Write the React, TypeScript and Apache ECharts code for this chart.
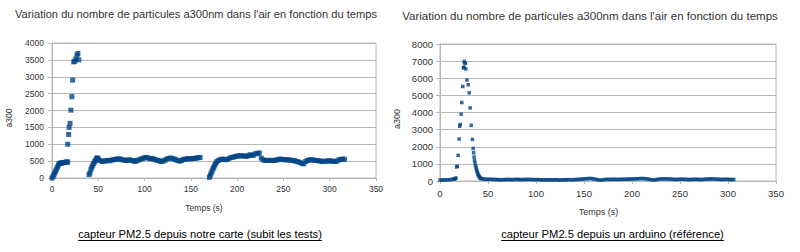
import React, { useEffect, useRef } from "react";
import * as echarts from "echarts";

const TITLE_TEXT = "Variation du nombre de particules a300nm dans l'air en fonction du temps";
const Y_NAME = "a300";
const X_NAME = "Temps (s)";
const LEFT_CAPTION = "capteur PM2.5 depuis notre carte (subit les tests)";
const RIGHT_CAPTION = "capteur PM2.5 depuis un arduino (référence)";

const LEFT_Y_TICKS = [0, 500, 1000, 1500, 2000, 2500, 3000, 3500, 4000];
const RIGHT_Y_TICKS = [0, 1000, 2000, 3000, 4000, 5000, 6000, 7000, 8000];
const X_TICKS = [0, 50, 100, 150, 200, 250, 300, 350];

// Left chart (notre carte): first burst
const leftSeg1Time = [0, 1, 2, 3, 4, 5, 6, 7, 8, 9, 10, 11, 12, 13, 14, 15, 16, 17, 17, 18, 18.5, 19.5, 20.4, 21.5, 22.3, 23.5, 24.5, 25.7, 27, 28, 29];
const leftSeg1Value = [0, 40, 90, 150, 210, 270, 330, 390, 430, 440, 440, 450, 450, 460, 460, 470, 480, 470, 1000, 1290, 1500, 1620, 2010, 2410, 2900, 3440, 3460, 3520, 3640, 3690, 3500];
// Left chart: second segment
const leftSeg2Time = [40, 41, 42, 43, 44, 45, 46, 47, 48, 49, 50, 52, 54, 56, 58, 60, 62, 64, 66, 68, 70, 72, 74, 76, 78, 80, 82, 84, 86, 88, 90, 92, 94, 96, 98, 100, 102, 104, 106, 108, 110, 112, 114, 116, 118, 120, 122, 124, 126, 128, 130, 132, 134, 136, 138, 140, 142, 144, 146, 148, 150, 152, 154, 156, 158, 160];
const leftSeg2Value = [100, 150, 250, 320, 380, 430, 480, 520, 580, 600, 560, 520, 490, 500, 510, 520, 510, 530, 540, 550, 560, 570, 560, 540, 530, 520, 530, 540, 520, 510, 490, 520, 540, 560, 580, 600, 610, 590, 570, 580, 560, 540, 520, 510, 490, 500, 530, 560, 580, 590, 580, 560, 540, 520, 500, 520, 550, 560, 570, 570, 570, 580, 580, 590, 600, 610];
// Left chart: third segment
const leftSeg3Time = [170, 171, 172, 173, 174, 175, 176, 177, 178, 180, 182, 184, 186, 188, 190, 192, 194, 196, 198, 200, 202, 204, 206, 208, 210, 212, 214, 216, 218, 220, 222, 224, 226, 228, 230, 232, 234, 236, 238, 240, 242, 244, 246, 248, 250, 252, 254, 256, 258, 260, 262, 264, 266, 268, 270, 272, 274, 276, 278, 280, 282, 284, 286, 288, 290, 292, 294, 296, 298, 300, 302, 304, 306, 308, 310, 312, 314, 316];
const leftSeg3Value = [20, 80, 150, 210, 280, 330, 390, 440, 490, 520, 550, 560, 550, 540, 560, 590, 610, 620, 640, 650, 655, 660, 655, 650, 640, 660, 690, 670, 680, 720, 730, 740, 590, 540, 520, 520, 525, 520, 520, 520, 530, 545, 560, 555, 545, 540, 540, 535, 530, 520, 510, 495, 480, 460, 430, 420, 490, 520, 535, 540, 535, 520, 520, 510, 500, 490, 495, 500, 505, 510, 500, 495, 490, 500, 540, 550, 560, 555];

// Right chart (arduino reference)
const rightPreTime = [0, 2, 4, 6, 8, 10, 12, 14, 15, 16, 16.5];
const rightPreValue = [60, 55, 60, 65, 70, 80, 90, 110, 120, 150, 170];
const rightSpikeTime = [17.3, 18.0, 18.9, 19.9, 20.6, 21.0, 22.0, 22.7, 23.7, 24.4, 25.0, 25.2, 25.8, 26.4, 27.0, 28.0, 29.4, 30.4, 31.4, 32.5, 33.8, 34.5, 35.0, 35.5, 36.0, 36.5, 37.0, 37.5, 38.0, 38.5, 39.0, 39.5, 40.0, 40.5, 41.0, 41.5, 42.0, 43.0];
const rightSpikeValue = [820, 860, 1500, 2450, 3200, 3300, 3900, 4580, 5520, 6600, 6650, 6980, 6900, 6880, 6540, 5900, 5620, 5150, 4270, 3250, 2430, 1900, 1650, 1400, 1200, 1050, 900, 780, 680, 580, 480, 410, 340, 290, 240, 200, 170, 140];
const rightTailTime = [44, 46, 48, 50, 52, 54, 56, 58, 60, 62, 64, 66, 68, 70, 72, 74, 76, 78, 80, 82, 84, 86, 88, 90, 92, 94, 96, 98, 100, 102, 104, 106, 108, 110, 112, 114, 116, 118, 120, 122, 124, 126, 128, 130, 132, 134, 136, 138, 140, 142, 144, 146, 148, 150, 152, 154, 156, 158, 160, 162, 164, 166, 168, 170, 172, 174, 176, 178, 180, 182, 184, 186, 188, 190, 192, 194, 196, 198, 200, 202, 204, 206, 208, 210, 212, 214, 216, 218, 220, 222, 224, 226, 228, 230, 232, 234, 236, 238, 240, 242, 244, 246, 248, 250, 252, 254, 256, 258, 260, 262, 264, 266, 268, 270, 272, 274, 276, 278, 280, 282, 284, 286, 288, 290, 292, 294, 296, 298, 300, 302, 304, 306];
const rightTailValue = [130, 110, 100, 100, 95, 100, 90, 85, 80, 75, 70, 80, 85, 90, 85, 80, 85, 90, 95, 90, 85, 80, 85, 90, 95, 90, 85, 80, 85, 80, 75, 70, 65, 70, 75, 70, 65, 70, 75, 70, 65, 60, 65, 70, 75, 80, 75, 70, 80, 90, 95, 100, 110, 120, 130, 140, 150, 140, 120, 100, 80, 60, 50, 70, 90, 100, 95, 90, 95, 100, 95, 90, 95, 100, 105, 100, 110, 115, 120, 120, 125, 130, 140, 145, 140, 130, 120, 100, 80, 60, 70, 90, 110, 120, 125, 130, 125, 120, 110, 100, 95, 90, 95, 100, 105, 100, 95, 90, 85, 90, 95, 100, 95, 90, 85, 90, 100, 110, 115, 120, 125, 115, 105, 100, 95, 90, 95, 100, 95, 90, 85, 90];

const zip = (t: number[], v: number[]) => t.map((x, i) => [x, v[i]]);

const FONT = "'Liberation Sans', Arial, sans-serif";
const GRID_COLOR = "#b8b8b8";
const TEXT_COLOR = "#333333";
const MARK_COLOR = "#004586";

function fitFont(text: string, family: string, width: number): number {
  const c = document.createElement("canvas").getContext("2d");
  if (!c) return 12;
  c.font = `100px ${family}`;
  const w = c.measureText(text).width;
  return w > 0 ? (100 * width) / w : 12;
}

function textWidth(text: string, family: string, size: number): number {
  const c = document.createElement("canvas").getContext("2d");
  if (!c) return text.length * size * 0.5;
  c.font = `${size}px ${family}`;
  return c.measureText(text).width;
}

export default function App() {
  const ref = useRef<HTMLDivElement>(null);
  useEffect(() => {
    document.body.style.margin = "0";
    const chart = echarts.init(ref.current!, null, { renderer: "svg" });

    const leftTitleSize = fitFont(TITLE_TEXT, FONT, 362);
    const rightTitleSize = fitFont(TITLE_TEXT, FONT, 376);
    const capFont = "'Liberation Sans', Arial, sans-serif";
    const leftCapSize = fitFont(LEFT_CAPTION, capFont, 246);
    const rightCapSize = fitFont(RIGHT_CAPTION, capFont, 221);
    const capSize = (leftCapSize + rightCapSize) / 2;
    const leftCapW = textWidth(LEFT_CAPTION, capFont, capSize);
    const rightCapW = textWidth(RIGHT_CAPTION, capFont, capSize);

    const makeX = (gridIndex: number, fontSize: number, margin: number) => ({
      gridIndex,
      type: "value",
      min: 0,
      max: 350,
      interval: 50,
      axisLine: { show: true, lineStyle: { color: GRID_COLOR } },
      axisTick: { show: true, length: 3, inside: false, lineStyle: { color: GRID_COLOR } },
      axisLabel: {
        fontSize,
        fontFamily: FONT,
        color: TEXT_COLOR,
        margin,
        formatter: (v: number) => (X_TICKS.includes(v) ? String(v) : ""),
      },
      splitLine: { show: false },
    });
    const makeY = (gridIndex: number, max: number, interval: number, ticks: number[], fontSize: number, margin: number) => ({
      gridIndex,
      type: "value",
      min: 0,
      max,
      interval,
      axisLine: { show: true, lineStyle: { color: GRID_COLOR } },
      axisTick: { show: true, length: 4, inside: false, lineStyle: { color: GRID_COLOR } },
      axisLabel: {
        fontSize,
        fontFamily: FONT,
        color: TEXT_COLOR,
        margin,
        formatter: (v: number) => (ticks.includes(v) ? String(v) : ""),
      },
      splitLine: { show: true, lineStyle: { color: GRID_COLOR, width: 1 } },
    });

    const txt = (text: string, x: number, y: number, size: number, extra: any = {}) => ({
      type: "text",
      x,
      y,
      ...extra,
      style: {
        text,
        x: 0,
        y: 0,
        fontSize: size,
        fontFamily: extra.fontFamily || FONT,
        fill: extra.fill || TEXT_COLOR,
        textAlign: "center",
        textVerticalAlign: "middle",
      },
    });

    const capY = 234;
    const option: any = {
      animation: false,
      backgroundColor: "#ffffff",
      grid: [
        { left: 52, top: 43, width: 324, height: 135, show: true, borderColor: GRID_COLOR, borderWidth: 1, backgroundColor: "transparent" },
        { left: 440, top: 44, width: 336, height: 137, show: true, borderColor: GRID_COLOR, borderWidth: 1, backgroundColor: "transparent" },
      ],
      xAxis: [makeX(0, 8.5, 6), makeX(1, 9.5, 7)],
      yAxis: [
        makeY(0, 4000, 500, LEFT_Y_TICKS, 8.5, 8),
        makeY(1, 8000, 1000, RIGHT_Y_TICKS, 9.5, 7),
      ],
      series: [
        {
          type: "scatter",
          xAxisIndex: 0,
          yAxisIndex: 0,
          symbol: "rect",
          symbolSize: 5,
          itemStyle: { color: MARK_COLOR },
          data: [
            ...zip(leftSeg1Time, leftSeg1Value),
            ...zip(leftSeg2Time, leftSeg2Value),
            ...zip(leftSeg3Time, leftSeg3Value),
          ],
        },
        {
          type: "scatter",
          xAxisIndex: 1,
          yAxisIndex: 1,
          symbol: "rect",
          symbolSize: 3.5,
          itemStyle: { color: MARK_COLOR },
          data: [
            ...zip(rightPreTime, rightPreValue),
            ...zip(rightSpikeTime, rightSpikeValue),
            ...zip(rightTailTime, rightTailValue),
          ],
        },
      ],
      graphic: [
        txt(TITLE_TEXT, 196, 14, leftTitleSize),
        txt(TITLE_TEXT, 590, 15.5, rightTitleSize),
        txt(X_NAME, 204, 208, 8.5),
        txt(X_NAME, 598.5, 212, 9),
        txt(Y_NAME, 9, 118, 8.5, { rotation: Math.PI / 2 }),
        txt(Y_NAME, 397, 119, 9, { rotation: Math.PI / 2 }),
        txt(LEFT_CAPTION, 200, capY, capSize, { fontFamily: capFont, fill: "#000000" }),
        txt(RIGHT_CAPTION, 612.5, capY, capSize, { fontFamily: capFont, fill: "#000000" }),
        {
          type: "line",
          shape: { x1: 200 - leftCapW / 2, y1: capY + 6.5, x2: 200 + leftCapW / 2, y2: capY + 6.5 },
          style: { stroke: "#000000", lineWidth: 1 },
        },
        {
          type: "line",
          shape: { x1: 612.5 - rightCapW / 2, y1: capY + 6.5, x2: 612.5 + rightCapW / 2, y2: capY + 6.5 },
          style: { stroke: "#000000", lineWidth: 1 },
        },
      ],
    };
    chart.setOption(option);
    return () => chart.dispose();
  }, []);
  return <div ref={ref} style={{ width: 800, height: 252 }} />;
}
